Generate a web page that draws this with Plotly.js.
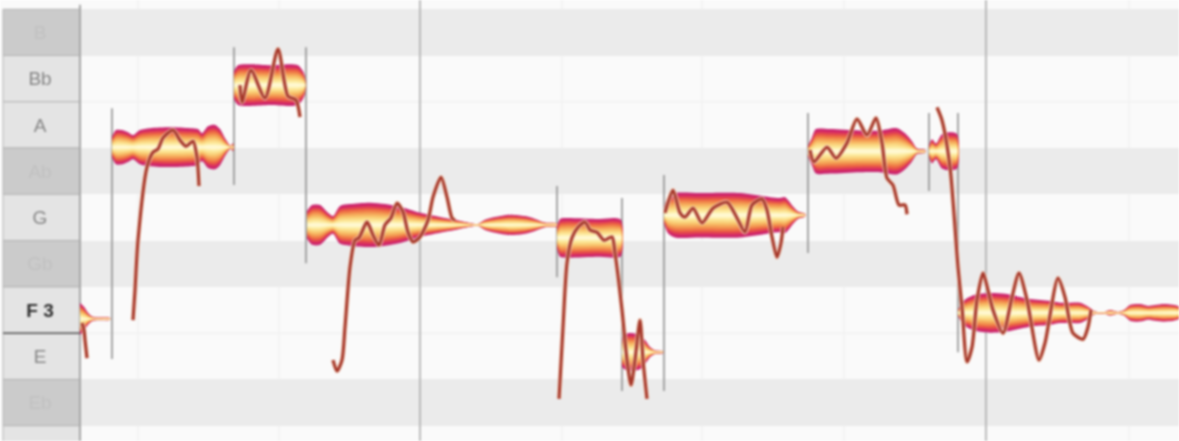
<!DOCTYPE html>
<html><head><meta charset="utf-8">
<script src="https://cdn.plot.ly/plotly-3.0.1.min.js"></script>
<style>html,body{margin:0;padding:0;background:#fff;overflow:hidden}#chart{width:1179px;height:441px;filter:blur(0.8px)}</style>
</head><body><div id="chart"></div>
<script>
// Pitch rows, in cents relative to F3; time in arbitrary ticks
const rowPitch  = [700,600,500,400,300,200,100,0,-100,-200,-300];
const rowNames  = ['','B','Bb','A','Ab','G','Gb','<b>F 3</b>','E','Eb','D'];
const rowIsDark = [0,1,0,0,1,0,1,0,0,1,0];

const softGridTimes = [138,279,562,702,844,1129];
const softGridSpans = [[670,650],[550,350],[250,150],[50,-150],[-250,-283]];
const barTimes = [420,986];

const sepTime = [112,234,306,557,622,664,808,929,958];
const sepTop  = [436,568,568,268,242,292,426,426,426];
const sepBot  = [-106,270,101,71,-175,-175,123,257,-91];

// Note amplitude envelopes: centre pitch, times, half-width in cents
const n0c=-19, n0t=[80,84,88,92,97,110], n0h=[35,26,13,5,3,2];
const n1c=352, n1t=[112,116,122,128,133,140,150,170,190,198,202,208,215,220,225,229,231,233], n1h=[22,37,37,32,26,37,41,43,41,39,30,45,48,39,19,6,3,9];
const n2c=486, n2t=[234,238,250,270,290,298,303,305], n2h=[30,43,45,43,45,43,30,17];
const n3c=184, n3t=[307,312,320,328,333,340,350,370,385,400,420,440,455,470,478,485,495,510,525,535,545,557], n3h=[30,43,43,26,19,41,45,48,45,39,26,17,11,4,2,11,17,22,19,13,5,3];
const n4c=156, n4t=[557,560,565,600,615,621], n4h=[22,41,43,41,43,39];
const n5c=-91, n5t=[622,628,640,645,650,655,663], n5h=[32,41,37,26,11,4,2];
const n6c=205, n6t=[664,668,675,700,740,770,780,785,793,798,805], n6h=[17,39,48,48,48,39,37,39,19,8,3];
const n7c=343, n7t=[808,812,816,830,860,880,897,905,912,917,925], n7h=[11,30,48,48,45,45,50,39,22,6,3];
const n8c=343, n8t=[929,932,936,942,950,957], n8h=[11,26,17,37,41,37];
const n9c=-6,  n9t=[958,962,966,975,990,1005,1030,1050,1060,1070,1080,1087,1091,1095,1105,1110,1118,1124,1130,1140,1148,1155,1165,1179], n9h=[6,22,30,39,43,41,30,26,22,22,22,15,9,3,2,6,2,6,17,19,15,17,19,13];

// Pitch curves
const c0t=[82,84,85,87], c0p=[-28,-43,-65,-104];
const c1t=[133,135,138,147,153,158,163,173,180,186,193,197,199], c1p=[-22,43,151,309,341,348,372,389,367,354,365,330,268];
const c2t=[240,242,251,265,278,288,296,300], c2p=[486,449,518,458,564,462,454,417];
const c3t=[333,337,342,345,350,355,359,367,373,379,385,391,397,403,408,413,420,428,433,441,447,452,455], c3p=[-108,-132,-108,-37,93,151,156,190,162,140,184,199,231,212,168,147,158,194,244,287,244,199,194];
const c4t=[559,563,567,572,578,585,590,597,604,612,615,622,627,631,635,640,643,647], c4p=[-192,-37,102,156,179,190,173,168,151,158,123,0,-108,-162,-108,-22,-108,-192];
const c6t=[665,673,680,685,693,702,713,727,737,745,752,762,767,772,777,781,783], c6p=[210,259,210,201,220,188,220,233,199,168,227,240,216,158,114,145,179];
const c7t=[810,814,827,836,847,857,867,876,882,887,893,899,905,907], c7p=[346,320,352,328,361,413,378,415,361,285,270,227,227,207];
const c9t=[937,942,950,958,962,967,972,977,983,988,993,1003,1012,1019,1027,1039,1045,1058,1065,1073,1083,1088,1091], c9p=[438,410,309,93,6,-112,-80,22,80,43,0,-50,28,80,22,-108,-71,69,28,-50,-63,-37,0];

const notes=[[n0c,n0t,n0h],[n1c,n1t,n1h],[n2c,n2t,n2h],[n3c,n3t,n3h],[n4c,n4t,n4h],[n5c,n5t,n5h],[n6c,n6t,n6h],[n7c,n7t,n7h],[n8c,n8t,n8h],[n9c,n9t,n9h]];
const curves=[[c0t,c0p],[c1t,c1p],[c2t,c2p],[c3t,c3p],[c4t,c4p],[c6t,c6p],[c7t,c7p],[c9t,c9p]];
const blobLayers=[[1,'#c8206e'],[.9,'#d93060'],[.8,'#e64f48'],[.7,'#ee7345'],[.6,'#f29550'],[.5,'#f6b25f'],[.4,'#f9cb74'],[.3,'#fbdf8c'],[.2,'#fdeea6'],[.1,'#fff8d0']];

const traces=[];
const laneLeft=80, timeEnd=1179, keyLeft=3;
traces.push({type:'bar',orientation:'h',y:rowPitch,x:rowPitch.map(()=>timeEnd-laneLeft),base:laneLeft,width:100,
  marker:{color:rowIsDark.map(d=>d?'#ebebeb':'#fafafa'),line:{width:0}},hoverinfo:'skip'});
traces.push({type:'scatter',mode:'lines',x:[laneLeft,timeEnd,null,laneLeft,timeEnd],y:[450,450,null,-50,-50],line:{color:'#f1f1f1',width:1.5},hoverinfo:'skip'});
const keyRows=rowPitch.slice(1);
traces.push({type:'bar',orientation:'h',y:keyRows,x:keyRows.map(()=>laneLeft-keyLeft),base:keyLeft,width:100,
  marker:{color:rowIsDark.slice(1).map(d=>d?'#cbcbcb':'#e4e4e4'),line:{color:'#b4b4b4',width:1}},hoverinfo:'skip'});
let gx=[],gy=[];
softGridTimes.forEach(t=>softGridSpans.forEach(s=>{gx.push(t,t,null);gy.push(s[0],s[1],null);}));
traces.push({type:'scatter',mode:'lines',x:gx,y:gy,line:{color:'#f0f0f0',width:1.5},hoverinfo:'skip'});
let bx=[],by=[];
barTimes.forEach(t=>{bx.push(t,t,null);by.push(670,-283,null);});
traces.push({type:'scatter',mode:'lines',x:bx,y:by,line:{color:'#b0b0b0',width:1.7},hoverinfo:'skip'});
let sx=[],sy=[];
sepTime.forEach((t,i)=>{sx.push(t,t,null);sy.push(sepTop[i],sepBot[i],null);});
traces.push({type:'scatter',mode:'lines',x:sx,y:sy,line:{color:'#909090',width:1.6},hoverinfo:'skip'});
traces.push({type:'scatter',mode:'lines',x:[laneLeft,laneLeft],y:[660,-283],line:{color:'#a6a6a6',width:2},hoverinfo:'skip'});
traces.push({type:'scatter',mode:'lines',x:[keyLeft,laneLeft],y:[-50,-50],line:{color:'#555',width:1.4},hoverinfo:'skip'});
// note blobs
blobLayers.forEach(([k,col])=>{
  let x=[],y=[];
  notes.forEach(([c,t,h])=>{
    t.forEach((v,i)=>{x.push(v);y.push(c+h[i]*k);});
    for(let i=t.length-1;i>=0;i--){x.push(t[i]);y.push(c-h[i]*k);}
    x.push(null);y.push(null);
  });
  traces.push({type:'scatter',mode:'lines',x,y,fill:'toself',fillcolor:col,line:{width:0,color:col,shape:'spline',smoothing:.8},hoverinfo:'skip'});
});
// pitch curves
curves.forEach(([t,p])=>{
  traces.push({type:'scatter',mode:'lines',x:t,y:p,line:{color:'#f6d3bd',width:4.6,shape:'spline',smoothing:.7},hoverinfo:'skip'});
  traces.push({type:'scatter',mode:'lines',x:t,y:p,line:{color:'#a5372a',width:3,shape:'spline',smoothing:.7},hoverinfo:'skip'});
});
// key labels
traces.push({type:'scatter',mode:'text',x:keyRows.map(()=>40),y:keyRows.map(p=>p-4),text:rowNames.slice(1),textposition:'middle center',
  textfont:{family:'Liberation Sans, Arial, sans-serif',size:19,color:rowNames.slice(1).map((n,i)=>n.includes('F 3')?'#2e2e2e':(rowIsDark[i+1]?'#c1c1c1':'#858585'))},hoverinfo:'skip',cliponaxis:false});

Plotly.newPlot('chart',traces,{
  width:1179,height:441,margin:{l:0,r:0,t:0,b:0},
  paper_bgcolor:'#ffffff',plot_bgcolor:'#fafafa',showlegend:false,barmode:'overlay',bargap:0,
  xaxis:{range:[0,1179],visible:false,fixedrange:true},
  yaxis:{range:[-283,670],visible:false,fixedrange:true}
},{displayModeBar:false,staticPlot:true});
</script></body></html>
